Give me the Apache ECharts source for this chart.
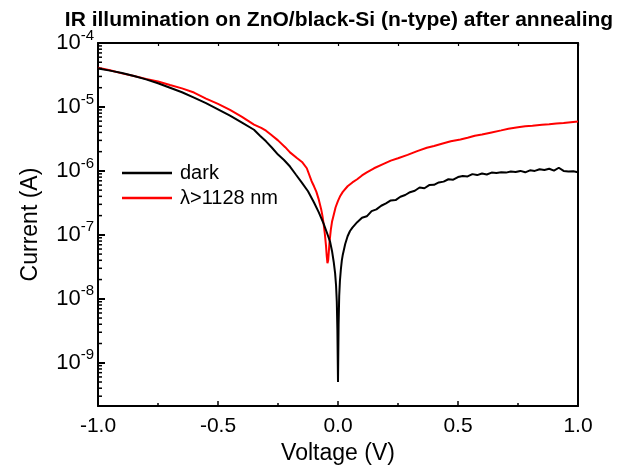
<!DOCTYPE html>
<html>
<head>
<meta charset="utf-8">
<script src="https://cdn.jsdelivr.net/npm/echarts@6/dist/echarts.min.js"></script>
<style>
  html, body { margin: 0; padding: 0; background: #fff; }
  #chart { width: 624px; height: 470px; }
</style>
</head>
<body>
<div id="chart"></div>
<script>
// I–V sweep, dark current
const darkV = [-1.00, -0.95, -0.90, -0.85, -0.80, -0.75, -0.70, -0.65, -0.60, -0.55,
  -0.50, -0.45, -0.40, -0.35, -0.325, -0.30, -0.275, -0.25, -0.225, -0.20,
  -0.175, -0.15, -0.125, -0.10, -0.08, -0.06, -0.045, -0.033, -0.025, -0.018,
  -0.012, -0.008, -0.005, -0.0025,
  0.000, 0.0025, 0.005, 0.008, 0.012, 0.016, 0.02, 0.03, 0.04, 0.05, 0.06, 0.08,
  0.10, 0.12, 0.14, 0.16, 0.18, 0.20, 0.22, 0.24, 0.26, 0.28, 0.30, 0.32,
  0.34, 0.36, 0.38, 0.40, 0.42, 0.44, 0.46, 0.48, 0.50, 0.52, 0.54, 0.56,
  0.58, 0.60, 0.62, 0.64, 0.66, 0.68, 0.70, 0.72, 0.74, 0.76, 0.78, 0.80,
  0.82, 0.84, 0.86, 0.88, 0.90, 0.92, 0.94, 0.96, 0.98, 1.00];
const darkI = [4.0e-5, 3.7e-5, 3.4e-5, 3.05e-5, 2.7e-5, 2.35e-5, 2.0e-5, 1.7e-5, 1.4e-5, 1.15e-5,
  9.2e-6, 7.3e-6, 5.7e-6, 4.4e-6, 3.55e-6, 2.9e-6, 2.3e-6, 1.8e-6, 1.48e-6, 1.17e-6,
  8.7e-7, 6.5e-7, 4.8e-7, 3.2e-7, 2.25e-7, 1.5e-7, 1.05e-7, 7.8e-8, 5.6e-8, 3.8e-8,
  2.5e-8, 1.6e-8, 8.9e-9, 3.2e-9,
  5.0e-10, 4.0e-9, 1.1e-8, 1.9e-8, 2.9e-8, 4.0e-8, 4.9e-8, 7.2e-8, 9.5e-8, 1.15e-7, 1.3e-7, 1.58e-7,
  1.85e-7, 1.95e-7, 2.35e-7, 2.5e-7, 2.85e-7, 3.1e-7, 3.45e-7, 3.5e-7, 3.95e-7, 4.2e-7, 4.65e-7, 4.9e-7,
  5.5e-7, 5.35e-7, 6.0e-7, 6.05e-7, 6.6e-7, 6.8e-7, 7.4e-7, 7.3e-7, 8.0e-7, 8.3e-7, 8.2e-7, 8.9e-7,
  8.6e-7, 9.1e-7, 8.8e-7, 9.4e-7, 9.3e-7, 9.5e-7, 9.4e-7, 9.8e-7, 9.6e-7, 1.0e-6, 9.5e-7, 1.02e-6,
  1.0e-6, 1.06e-6, 1.03e-6, 1.08e-6, 1.01e-6, 1.12e-6, 1.0e-6, 9.8e-7, 9.9e-7, 9.5e-7];

// I–V sweep under λ>1128 nm illumination
const irV = [-1.00, -0.95, -0.90, -0.85, -0.80, -0.75, -0.70, -0.65, -0.60, -0.55,
  -0.50, -0.45, -0.40, -0.35, -0.32, -0.30, -0.28, -0.25, -0.22, -0.20,
  -0.17, -0.15, -0.13, -0.11, -0.10, -0.09, -0.08, -0.07, -0.065, -0.06,
  -0.055, -0.05, -0.047, -0.044, -0.041, -0.038, -0.035, -0.03, -0.025, -0.02,
  -0.01, 0.00, 0.01, 0.02, 0.04, 0.06, 0.08, 0.10, 0.12, 0.15, 0.19, 0.22,
  0.25, 0.29, 0.33, 0.37, 0.40, 0.44, 0.47, 0.51, 0.54, 0.57, 0.60, 0.64,
  0.68, 0.71, 0.75, 0.78, 0.81, 0.85, 0.88, 0.91, 0.94, 0.97, 1.00];
const irI = [4.1e-5, 3.75e-5, 3.35e-5, 3.05e-5, 2.75e-5, 2.5e-5, 2.2e-5, 1.95e-5, 1.68e-5, 1.35e-5,
  1.12e-5, 9.0e-6, 7.0e-6, 5.3e-6, 4.7e-6, 4.25e-6, 3.7e-6, 3.0e-6, 2.35e-6, 1.95e-6,
  1.58e-6, 1.38e-6, 1.1e-6, 6.9e-7, 5.75e-7, 4.7e-7, 3.55e-7, 2.5e-7, 2.0e-7, 1.5e-7,
  1.05e-7, 6.8e-8, 4.7e-8, 3.6e-8, 4.0e-8, 5.6e-8, 8.0e-8, 1.2e-7, 1.6e-7, 1.9e-7,
  2.7e-7, 3.4e-7, 4.1e-7, 4.7e-7, 5.75e-7, 6.6e-7, 7.4e-7, 8.5e-7, 9.5e-7, 1.1e-6, 1.29e-6, 1.45e-6,
  1.58e-6, 1.78e-6, 2.04e-6, 2.3e-6, 2.45e-6, 2.7e-6, 2.9e-6, 3.1e-6, 3.3e-6, 3.55e-6, 3.7e-6, 4.0e-6,
  4.3e-6, 4.55e-6, 4.8e-6, 5.0e-6, 5.1e-6, 5.25e-6, 5.35e-6, 5.5e-6, 5.6e-6, 5.75e-6, 5.9e-6];

const seriesNames = ['dark', 'λ>1128 nm'];
const xRange = [-1, 1];
const yRange = [2.1e-10, 1e-4];

// Log-axis minor ticks (2..9 × each decade) inside the current range
const yMinorTicks = [];
for (let e = -10; e < -4; e++) {
  for (let k = 2; k <= 9; k++) {
    const v = k * Math.pow(10, e);
    if (v > yRange[0] && v < yRange[1]) yMinorTicks.push(v);
  }
}

const FONT = 'Liberation Sans, Arial, sans-serif';
const chart = echarts.init(document.getElementById('chart'), null, { renderer: 'canvas' });

const axisLineStyle = { color: '#000', width: 2 };

chart.setOption({
  animation: false,
  backgroundColor: '#fff',
  title: {
    text: 'IR illumination on ZnO/black-Si (n-type) after annealing',
    left: 334,
    textAlign: 'center',
    top: 5,
    textStyle: { fontFamily: FONT, fontSize: 21, fontWeight: 'bold', color: '#000' }
  },
  grid: { left: 98, right: 46, top: 43, bottom: 62, containLabel: false },
  legend: {
    data: seriesNames,
    orient: 'vertical',
    left: 122,
    top: 163,
    padding: 0,
    icon: 'rect',
    itemWidth: 50,
    itemHeight: 2.5,
    itemGap: 5,
    textStyle: { fontFamily: FONT, fontSize: 20, color: '#000', padding: [0, 0, 0, 3] }
  },
  xAxis: [
    {
      type: 'value', min: xRange[0], max: xRange[1], interval: 0.5, position: 'bottom',
      name: 'Voltage (V)', nameLocation: 'middle', nameGap: 35,
      nameTextStyle: { fontFamily: FONT, fontSize: 23, color: '#000' },
      axisLine: { onZero: false, lineStyle: axisLineStyle },
      axisTick: { inside: true, length: 5, lineStyle: { color: '#000', width: 1.5 } },
      minorTick: { show: true, splitNumber: 2, length: 3, lineStyle: { color: '#000', width: 1.5 } },
      axisLabel: { fontFamily: FONT, fontSize: 21, color: '#000', margin: 10,
        formatter: v => v.toFixed(1) },
      splitLine: { show: false }
    },
    {
      type: 'value', min: xRange[0], max: xRange[1], interval: 0.25, position: 'top',
      axisLine: { onZero: false, lineStyle: axisLineStyle },
      axisTick: { inside: true, length: 3, lineStyle: { color: '#000', width: 1.2 } },
      axisLabel: { show: false },
      splitLine: { show: false }
    }
  ],
  yAxis: [
    {
      type: 'log', logBase: 10, min: yRange[0], max: yRange[1], position: 'left',
      name: 'Current (A)', nameLocation: 'middle', nameGap: 56, nameRotate: 90,
      nameTextStyle: { fontFamily: FONT, fontSize: 23, color: '#000' },
      axisLine: { onZero: false, lineStyle: axisLineStyle },
      axisTick: { show: true, inside: true, length: 7, lineStyle: { color: '#000', width: 2 } },
      axisLabel: {
        margin: 4,
        formatter: v => {
          const l = Math.log10(v);
          const e = Math.round(l);
          if (Math.abs(l - e) > 1e-6) return '';
          return '{b|10}{s|' + e + '}';
        },
        rich: {
          b: { fontFamily: FONT, fontSize: 22, color: '#000' },
          s: { fontFamily: FONT, fontSize: 15, color: '#000', padding: [0, 0, 15, 0] }
        }
      },
      splitLine: { show: false }
    },
    {
      type: 'log', logBase: 10, min: yRange[0], max: yRange[1], position: 'right',
      axisLine: { onZero: false, lineStyle: axisLineStyle },
      axisTick: { show: false },
      axisLabel: { show: false },
      splitLine: { show: false }
    }
  ],
  series: [
    {
      name: seriesNames[0], type: 'line', xAxisIndex: 0, yAxisIndex: 0,
      data: darkV.map((v, i) => [v, darkI[i]]),
      showSymbol: false, symbol: 'none', smooth: false,
      lineStyle: { color: '#000', width: 2 }, itemStyle: { color: '#000' }, z: 3
    },
    {
      name: seriesNames[1], type: 'line', xAxisIndex: 0, yAxisIndex: 0,
      data: irV.map((v, i) => [v, irI[i]]),
      showSymbol: false, symbol: 'none', smooth: false,
      lineStyle: { color: '#f00', width: 2 }, itemStyle: { color: '#f00' }, z: 2
    },
    {
      type: 'custom', xAxisIndex: 0, yAxisIndex: 0, silent: true, clip: false, z: 5,
      data: yMinorTicks.map(v => [xRange[0], v]),
      renderItem: (params, api) => {
        const p = api.coord([api.value(0), api.value(1)]);
        return {
          type: 'line',
          shape: { x1: p[0], y1: p[1], x2: p[0] + 4, y2: p[1] },
          style: { stroke: '#000', lineWidth: 1.5 }
        };
      }
    }
  ]
});
</script>
</body>
</html>
